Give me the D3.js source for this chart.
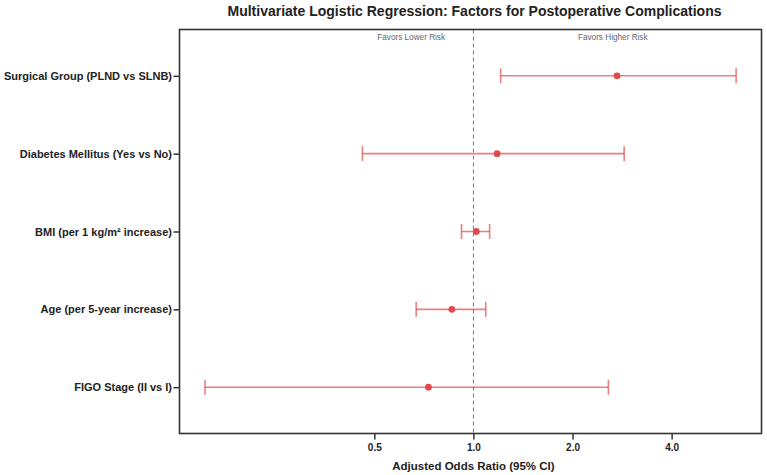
<!DOCTYPE html>
<html>
<head>
    <meta charset="utf-8">
    <title>Forest plot</title>
    <script src="https://d3js.org/d3.v7.min.js"></script>
    <style>
        body { margin: 0; background: #fff; }
        text { font-family: "Liberation Sans", Arial, Helvetica, sans-serif; }
    </style>
</head>
<body>
<div id="chart"></div>
<script>
    // factors, top to bottom
    let factors = [
        "Surgical Group (PLND vs SLNB)",
        "Diabetes Mellitus (Yes vs No)",
        "BMI (per 1 kg/m\u00b2 increase)",
        "Age (per 5-year increase)",
        "FIGO Stage (II vs I)"
    ];
    let oddsRatio = [2.73, 1.18, 1.02, 0.86, 0.73];
    let ciLow     = [1.21, 0.46, 0.92, 0.67, 0.153];
    let ciHigh    = [6.28, 2.87, 1.12, 1.09, 2.57];
    let tickValues = [0.5, 1.0, 2.0, 4.0];
    let xDomain = [0.128, 7.5];

    let width = 767, height = 475;
    let margin = {top: 29.5, right: 5.5, bottom: 41.5, left: 179.5};

    let data = factors.map((f, i) => ({
        name: f, or: oddsRatio[i], lo: ciLow[i], hi: ciHigh[i]
    }));

    let svg = d3.select("#chart")
        .append("svg")
            .attr("width", width)
            .attr("height", height);

    let x = d3.scaleLog()
        .domain(xDomain)
        .range([margin.left, width - margin.right]);

    let y = d3.scalePoint()
        .domain(factors)
        .range([margin.top, height - margin.bottom])
        .padding(0.595);

    let red = "#e04a4a";

    // reference line at OR = 1
    svg.append("line")
        .attr("x1", x(1)).attr("x2", x(1))
        .attr("y1", margin.top).attr("y2", height - margin.bottom)
        .attr("stroke", "#777")
        .attr("stroke-width", 1)
        .attr("stroke-dasharray", "4,3");

    // favors labels
    svg.append("text")
        .attr("x", x(0.647)).attr("y", margin.top + 10)
        .attr("text-anchor", "middle")
        .attr("font-size", 8.2)
        .attr("fill", "#666")
        .text("Favors Lower Risk");
    svg.append("text")
        .attr("x", x(2.65)).attr("y", margin.top + 10)
        .attr("text-anchor", "middle")
        .attr("font-size", 8.2)
        .attr("fill", "#666")
        .text("Favors Higher Risk");

    // error bars
    let g = svg.append("g").attr("class", "bars");
    let rows = g.selectAll("g")
        .data(data)
        .join("g")
            .attr("transform", d => `translate(0,${y(d.name)})`);

    rows.append("line")
        .attr("x1", d => x(d.lo)).attr("x2", d => x(d.hi))
        .attr("stroke", red).attr("stroke-opacity", 0.7)
        .attr("stroke-width", 1.6);
    rows.append("line")
        .attr("x1", d => x(d.lo)).attr("x2", d => x(d.lo))
        .attr("y1", -7.5).attr("y2", 7.5)
        .attr("stroke", red).attr("stroke-opacity", 0.7)
        .attr("stroke-width", 1.6);
    rows.append("line")
        .attr("x1", d => x(d.hi)).attr("x2", d => x(d.hi))
        .attr("y1", -7.5).attr("y2", 7.5)
        .attr("stroke", red).attr("stroke-opacity", 0.7)
        .attr("stroke-width", 1.6);
    rows.append("circle")
        .attr("cx", d => x(d.or))
        .attr("r", 3.4)
        .attr("fill", red);

    // frame
    svg.append("rect")
        .attr("x", margin.left).attr("y", margin.top)
        .attr("width", width - margin.left - margin.right)
        .attr("height", height - margin.top - margin.bottom)
        .attr("fill", "none")
        .attr("stroke", "#333")
        .attr("stroke-width", 1.6);

    // x axis
    let xAxis = svg.append("g")
        .attr("transform", `translate(0,${height - margin.bottom})`)
        .call(d3.axisBottom(x).tickValues(tickValues).tickFormat(d3.format(".1f")).tickSize(6).tickPadding(4));
    xAxis.select(".domain").remove();
    xAxis.selectAll(".tick line").attr("stroke", "#333").attr("stroke-width", 1.5);
    xAxis.selectAll("text")
        .attr("font-size", 10).attr("font-weight", "bold").attr("fill", "#222");

    // y axis
    let yAxis = svg.append("g")
        .attr("transform", `translate(${margin.left},0)`)
        .call(d3.axisLeft(y).tickSize(6).tickPadding(1.5));
    yAxis.select(".domain").remove();
    yAxis.selectAll(".tick line").attr("stroke", "#333").attr("stroke-width", 1.5);
    yAxis.selectAll("text")
        .attr("font-size", 11).attr("font-weight", "bold").attr("fill", "#222");

    // titles
    svg.append("text")
        .attr("x", 474.5).attr("y", 16)
        .attr("text-anchor", "middle")
        .attr("font-size", 14).attr("font-weight", "bold").attr("fill", "#222")
        .text("Multivariate Logistic Regression: Factors for Postoperative Complications");

    svg.append("text")
        .attr("x", x(1)).attr("y", 470)
        .attr("text-anchor", "middle")
        .attr("font-size", 11.5).attr("font-weight", "bold").attr("fill", "#222")
        .text("Adjusted Odds Ratio (95% CI)");
</script>
</body>
</html>
